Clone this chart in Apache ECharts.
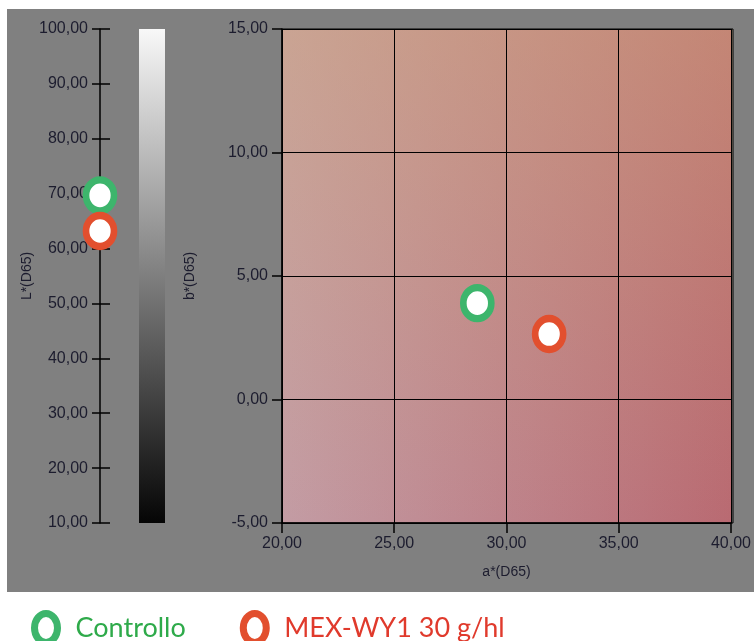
<!DOCTYPE html>
<html><head><meta charset="utf-8">
<script src="https://cdn.jsdelivr.net/npm/echarts@6/dist/echarts.min.js"></script>
<style>html,body{margin:0;padding:0;background:#fff}#c{width:754px;height:641px}</style>
</head><body><div id="c"></div>
<script>
const seriesNames = ['Controllo', 'MEX-WY1 30 g/hl'];
const lightness = [69.7, 63.2];      // L*(D65)
const aStar = [28.7, 31.9];          // a*(D65)
const bStar = [3.9, 2.65];           // b*(D65)
const lAxis = {min: 10, max: 100, interval: 10, name: 'L*(D65)'};
const aAxis = {min: 20, max: 40, interval: 5, name: 'a*(D65)'};
const bAxis = {min: -5, max: 15, interval: 5, name: 'b*(D65)'};
const ringColors = ['#3db56c', '#e24f2e'];
const textColors = ['#2eaa4a', '#e03a2c'];

const fmt = v => v.toFixed(2).replace('.', ',');
const labelColor = '#1c1c2e';
const FONT = "'Liberation Sans', Arial, Helvetica, sans-serif";
const black = {color: '#000', width: 1.5};

const chart = echarts.init(document.getElementById('c'), null, {renderer: 'canvas'});

const PLOT = {left: 282, top: 29, width: 451, height: 494};
const ellipseIcon = 'path://M11.5,0A11.5,14.5,0,1,1,11.5,29A11.5,14.5,0,1,1,11.5,0Z';

const option = {
  backgroundColor: '#ffffff',
  animation: false,
  graphic: [{
    type: 'rect', z: -100, silent: true,
    shape: {x: 7, y: 9, width: 747, height: 583},
    style: {fill: '#808080'}
  }],
  grid: [
    {left: 100, top: 29, width: 20, height: 494},
    Object.assign({show: true, borderWidth: 0,
      backgroundColor: new echarts.graphic.LinearGradient(0, 0, 1, 0, [
        {offset: 0, color: '#c39ca4'}, {offset: 1, color: '#b96a72'}])}, PLOT),
    Object.assign({show: true, borderColor: '#000', borderWidth: 1,
      backgroundColor: new echarts.graphic.LinearGradient(0, 0, 0, 1, [
        {offset: 0, color: 'rgba(212,176,122,0.40)'},
        {offset: 1, color: 'rgba(212,176,122,0)'}])}, PLOT),
    {left: 139, top: 29, width: 26, height: 494, show: true, borderWidth: 0,
      backgroundColor: new echarts.graphic.LinearGradient(0, 0, 0, 1, [
        {offset: 0, color: '#f8f8f8'}, {offset: 1, color: '#050505'}])}
  ],
  xAxis: [
    {gridIndex: 0, type: 'value', min: 0, max: 1, show: false},
    {gridIndex: 1, type: 'value', min: aAxis.min, max: aAxis.max, interval: aAxis.interval,
      name: aAxis.name, nameLocation: 'middle', nameGap: 42,
      nameTextStyle: {color: labelColor, fontFamily: FONT, fontSize: 14},
      axisLine: {show: true, onZero: false, lineStyle: black},
      axisTick: {show: true, length: 10, lineStyle: black},
      axisLabel: {formatter: fmt, color: labelColor, fontFamily: FONT, fontSize: 16, margin: 13},
      splitLine: {show: true, lineStyle: {color: '#000', width: 1}}},
    {gridIndex: 2, type: 'value', min: aAxis.min, max: aAxis.max, show: false},
    {gridIndex: 3, type: 'value', min: 0, max: 1, show: false}
  ],
  yAxis: [
    {gridIndex: 0, type: 'value', position: 'left', min: lAxis.min, max: lAxis.max, interval: lAxis.interval,
      name: lAxis.name, nameLocation: 'middle', nameGap: 66,
      nameTextStyle: {color: labelColor, fontFamily: FONT, fontSize: 14},
      axisLine: {show: true, lineStyle: black},
      axisTick: {show: true, length: 8, lineStyle: black},
      axisLabel: {formatter: fmt, color: labelColor, fontFamily: FONT, fontSize: 16, margin: 12},
      splitLine: {show: false}},
    {gridIndex: 0, type: 'value', position: 'left', offset: 0, min: lAxis.min, max: lAxis.max, interval: lAxis.interval,
      axisLine: {show: false},
      axisTick: {show: true, inside: true, length: 10, lineStyle: black},
      axisLabel: {show: false}, splitLine: {show: false}},
    {gridIndex: 1, type: 'value', min: bAxis.min, max: bAxis.max, interval: bAxis.interval,
      name: bAxis.name, nameLocation: 'middle', nameGap: 85,
      nameTextStyle: {color: labelColor, fontFamily: FONT, fontSize: 14},
      axisLine: {show: true, onZero: false, lineStyle: black},
      axisTick: {show: true, length: 10, lineStyle: black},
      axisLabel: {formatter: fmt, color: labelColor, fontFamily: FONT, fontSize: 16, margin: 14},
      splitLine: {show: true, lineStyle: {color: '#000', width: 1}}},
    {gridIndex: 2, type: 'value', min: bAxis.min, max: bAxis.max, show: false},
    {gridIndex: 3, type: 'value', min: lAxis.min, max: lAxis.max, show: false}
  ],
  legend: {
    left: 26, top: 605, itemGap: 54, itemWidth: 23, itemHeight: 29,
    data: seriesNames.map((n, i) => ({
      name: n, icon: ellipseIcon,
      itemStyle: {color: '#fff', borderColor: ringColors[i], borderWidth: 7},
      textStyle: {color: textColors[i], fontFamily: 'Lato, sans-serif', fontSize: 27, padding: [0, 0, 0, 13]}
    }))
  },
  series: []
};

seriesNames.forEach((n, i) => {
  const style = {color: '#fff', borderColor: ringColors[i], borderWidth: 7, opacity: 1};
  option.series.push({
    name: n, type: 'scatter', xAxisIndex: 0, yAxisIndex: 0, z: 5 + i,
    symbol: 'circle', symbolSize: [28, 31], itemStyle: style,
    data: [[0, lightness[i]]]
  });
  option.series.push({
    name: n, type: 'scatter', xAxisIndex: 1, yAxisIndex: 2, z: 5 + i,
    symbol: 'circle', symbolSize: [28, 31], itemStyle: style,
    data: [[aStar[i], bStar[i]]]
  });
});

chart.setOption(option);
</script></body></html>
